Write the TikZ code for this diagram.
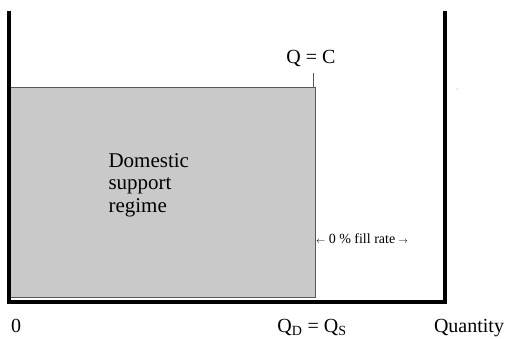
\documentclass[tikz,border=0pt]{standalone}
\usepackage{fontspec}
\setmainfont{Liberation Serif}
\usetikzlibrary{arrows.meta}

\begin{document}
\begin{tikzpicture}[x=1pt, y=-1pt, font=\fontsize{20}{22.5}\selectfont,
    axisline/.style={line width=3.4pt, line join=miter},
    regime/.style={fill=black!21, draw=black!65, line width=1pt}]
    \useasboundingbox (0,0) rectangle (508,339);
    % support region
    \draw[regime] (10,88) rectangle (315,297);
    \draw[black!65, line width=0.9pt] (313,73) -- (313,88);
    % axes
    \draw[axisline] (9,11) -- (9,302) -- (445,302) -- (445,11);
    \fill[black!50] (457,89) circle (0.5);
    % labels
    \node[anchor=base] (cap) at (311,64) {Q = C};
    \node[anchor=base west, align=left, font=\fontsize{21}{22.5}\selectfont] (dsr) at (105,212) {Domestic\\support\\regime};
    \node[anchor=base, font=\fontsize{14}{15}\selectfont] (fill) at (362,243)
        {{\fontsize{9}{9}\selectfont$\leftarrow$} 0 \% fill rate {\fontsize{9}{9}\selectfont$\rightarrow$}};
    \node[anchor=base] (zero) at (16,332) {0};
    \node[anchor=base] (qdqs) at (312,332) {Q\textsubscript{D} = Q\textsubscript{S}};
    \node[anchor=base] (qty) at (469,332) {Quantity};
\end{tikzpicture}
\end{document}
